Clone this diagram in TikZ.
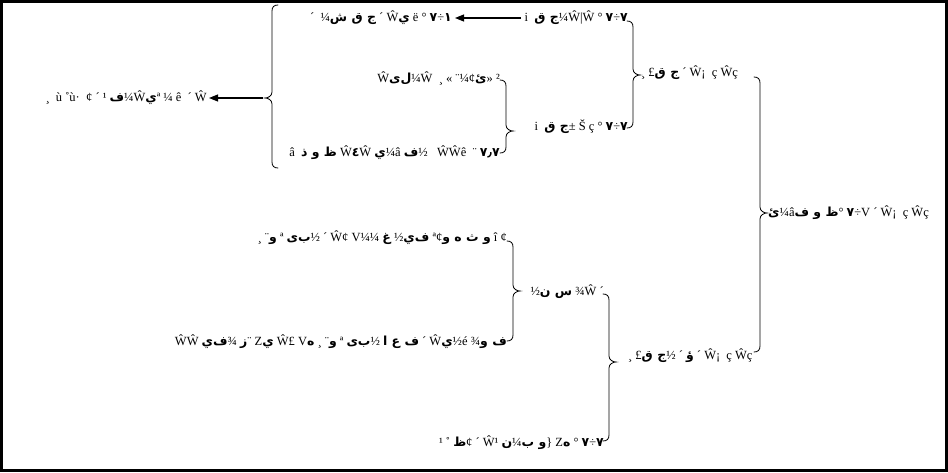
\documentclass[tikz,border=0pt]{standalone}
\usepackage{fontspec}
\setmainfont{Liberation Serif}
\newfontfamily\arfnt{DejaVu Sans}
\newcommand\A[1]{{\arfnt\bfseries\fontsize{12.5}{14}\selectfont #1}}
\usetikzlibrary{arrows.meta}
\tikzset{
  txt/.style={inner sep=0pt, font=\fontsize{12.5}{14}\selectfont},
  brc/.style={line width=0.8pt, line cap=round},
  arr/.style={line width=1.1pt, -{Triangle[length=9pt,width=7pt]}}
}
\newcommand\bracR[4]{\draw[brc] ({#1-6},#2) .. controls ({#1-2},#2) and (#1,{#2+2}) .. (#1,{#2+6}) -- (#1,{#4-6}) .. controls (#1,{#4-2}) and ({#1+4},#4) .. ({#1+7},#4) .. controls ({#1+4},#4) and (#1,{#4+2}) .. (#1,{#4+6}) -- (#1,{#3-6}) .. controls (#1,{#3-2}) and ({#1-2},#3) .. ({#1-6},#3);}
\newcommand\bracL[4]{\draw[brc] ({#1+6},#2) .. controls ({#1+2},#2) and (#1,{#2+2}) .. (#1,{#2+6}) -- (#1,{#4-6}) .. controls (#1,{#4-2}) and ({#1-4},#4) .. ({#1-7},#4) .. controls ({#1-4},#4) and (#1,{#4+2}) .. (#1,{#4+6}) -- (#1,{#3-6}) .. controls (#1,{#3-2}) and ({#1+2},#3) .. ({#1+6},#3);}
\begin{document}
\begin{tikzpicture}[x=1pt,y=-1pt]
\useasboundingbox (0,0) rectangle (948,472);
\draw[line width=3pt] (1.5,1.5) rectangle (946.5,470.5);
% upper branch
\node[txt,anchor=east] (T1) at (452,18) {´ \ ¼\A{ش ق ج} ´ Ŵ\A{ي} ë ° \A{٧}÷\A{١}};
\node[txt,anchor=east] (T2) at (628,18) {i \ \A{ق ج}¼Ŵ|Ŵ ° \A{٧}÷\A{٧}};
\draw[arr] ([xshift=-4pt]T2.west) -- ([xshift=3pt]T1.east);
\bracR{633}{21}{128}{75}
\node[txt,anchor=west] (A) at (641,73) {¸ £\A{ق ج} ´ Ŵ¡ \ ç Ŵç};
\node[txt,anchor=east] (A2) at (628,127) {i \ \A{ق ج}± Š ç ° \A{٧}÷\A{٧}};
\bracR{506}{80}{153}{131}
\node[txt,anchor=east] (M) at (500,78) {Ŵ\A{لى}¼Ŵ \ ¸ « ¨¼¢\A{ئ}» ²};
\node[txt,anchor=east] (BU) at (500,153) {â \ \A{ذ و ظ} Ŵ\A{٤}Ŵ \A{ي}¼â \A{ف}½ \ \ ŴŴê \ ¨ \A{٧٫٧}};
\bracL{272}{5}{168}{98}
\coordinate (ltip) at (263,98);
\node[txt,anchor=east] (L) at (207,98) {¸ \ ù ˚ù· \ ¢ ´ ¹ \A{ف}¼Ŵ\A{ي}ª ¼ ê \ ´ Ŵ};
\draw[arr] (ltip) -- ([xshift=2pt]L.east);
% root
\bracR{760}{77}{352}{213}
\node[txt,anchor=west] (R) at (768,213) {\A{ئ}¼â\A{ف و ظ}° \A{٧}÷V ´ Ŵ¡ \ ç Ŵç};
% lower branch
\node[txt,anchor=west] (B) at (628,356) {¸ £\A{ق ج}½ ´ \A{ؤ} ´ Ŵ¡ \ ç Ŵç};
\bracR{609}{294}{441}{362}
\node[txt,anchor=east] (B1) at (604,292) {½\A{ن س} ¾Ŵ ´};
\bracR{513}{241}{341}{291}
\node[txt,anchor=east] (B1t) at (507,238) {¸ ¨\A{و} ª \A{بى}½ ´ Ŵ¢ V¼¼ \A{غ} ½\A{في} ª¢\A{و ه ث و} î ¢};
\node[txt,anchor=east] (B1l) at (507,342) {ŴŴ \A{في}¾ \A{ز}¨ Z\A{ي} Ŵ£ V\A{ه} ¸ ¨\A{و} ª \A{بى}½ \A{ا ع ف} ´ Ŵ\A{ي}½é ¾\A{و ف}};
\node[txt,anchor=east] (B2) at (604,443) {¹ ˚ \A{ظ}¢ ´ Ŵ¹ \A{ن}¼\A{ب و}\} Z\A{ه} ° \A{٧}÷\A{٧}};
\end{tikzpicture}
\end{document}
